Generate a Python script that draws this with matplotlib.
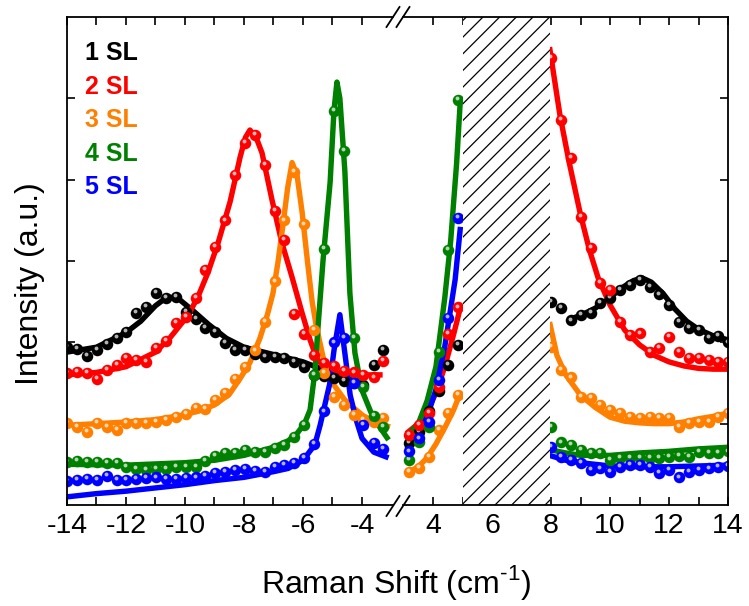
import matplotlib.pyplot as plt
from matplotlib import transforms
from matplotlib.lines import Line2D

plt.rcParams["font.family"] = ["Liberation Sans", "DejaVu Sans"]
plt.rcParams["mathtext.fontset"] = "custom"
plt.rcParams["mathtext.rm"] = "Liberation Sans"
plt.rcParams["axes.unicode_minus"] = False
plt.rcParams["hatch.linewidth"] = 0.9

labels = ["1 SL", "2 SL", "3 SL", "4 SL", "5 SL"]
colors = ["#000000", "#ff0000", "#ff8000", "#008000", "#0000ff"]

# measured points: shared Raman shift grid on both sides of the laser line
x_left = [-14.0, -13.66, -13.33, -12.99, -12.66, -12.32, -11.99, -11.65, -11.32, -10.98, -10.65,
          -10.31, -9.98, -9.64, -9.31, -8.97, -8.64, -8.3, -7.97, -7.63, -7.3, -6.96, -6.63,
          -6.29, -5.96, -5.62, -5.29, -4.95, -4.62, -4.28, -3.95, -3.61, -3.28]
x_right = [3.2, 3.53, 3.86, 4.19, 4.52, 4.85, 8.0, 8.33, 8.67, 9.0, 9.34, 9.67, 10.0, 10.34,
           10.67, 11.0, 11.34, 11.67, 12.0, 12.34, 12.67, 13.0, 13.34, 13.67, 14.0]

sl1_left = [1.94, 1.92, 1.83, 1.91, 1.98, 2.05, 2.13, 2.36, 2.44, 2.61, 2.55, 2.56, 2.37, 2.29,
            2.18, 2.13, 1.99, 1.91, 1.91, 1.86, 1.82, 1.82, 1.81, 1.76, 1.70, 1.60, 1.58, 1.56,
            1.53, 1.50, 1.47, 1.72, 1.91]
sl1_right = [0.76, 0.90, 1.15, 1.40, 1.72, 1.97, 2.50, 2.42, 2.27, 2.34, 2.36, 2.48, 2.55, 2.64,
             2.71, 2.77, 2.68, 2.59, 2.46, 2.25, 2.18, 2.15, 2.05, 2.08, 2.00]
sl2_left = [1.62, 1.64, 1.62, 1.55, 1.66, 1.72, 1.81, 1.78, 1.76, 1.93, 2.02, 2.24, 2.31, 2.55,
            2.89, 3.17, 3.50, 4.06, 4.45, 4.55, 4.18, 3.62, 3.26, 2.35, 2.10, 1.85, 1.75, 1.71,
            1.65, 1.63, 1.60, 1.57, 1.77]
sl2_right = [0.86, 0.98, 1.13, 1.45, 2.10, 2.43, 5.50, 4.73, 4.27, 3.54, 3.16, 2.73, 2.64, 2.25,
             2.09, 2.11, 1.88, 1.93, 2.07, 1.88, 1.81, 1.81, 1.78, 1.76, 1.76]
sl3_left = [1.01, 0.96, 0.90, 1.01, 0.96, 0.92, 1.01, 1.01, 1.01, 1.02, 1.05, 1.08, 1.12, 1.19,
            1.18, 1.29, 1.38, 1.55, 1.70, 1.90, 2.25, 2.75, 3.50, 4.10, 3.45, 2.15, 1.62, 1.33,
            1.23, 1.11, 1.05, 1.02, 1.07]
sl3_right = [0.41, 0.46, 0.59, 0.92, 1.13, 1.35, 1.94, 1.66, 1.57, 1.33, 1.32, 1.23, 1.17, 1.13,
             1.08, 1.07, 1.08, 1.07, 1.07, 0.96, 1.01, 1.02, 1.02, 1.08, 1.13]
sl4_left = [0.53, 0.54, 0.53, 0.53, 0.52, 0.52, 0.47, 0.44, 0.43, 0.44, 0.44, 0.47, 0.47, 0.47,
            0.54, 0.60, 0.64, 0.64, 0.68, 0.65, 0.65, 0.70, 0.74, 0.84, 0.98, 1.60, 3.15, 4.85,
            4.35, 2.05, 1.45, 1.10, 0.96]
sl4_right = [0.55, 0.78, 0.96, 1.88, 3.14, 4.98, 0.96, 0.77, 0.74, 0.68, 0.64, 0.64, 0.55, 0.58,
             0.58, 0.58, 0.58, 0.58, 0.59, 0.60, 0.59, 0.65, 0.64, 0.64, 0.66]
sl5_left = [0.30, 0.31, 0.32, 0.31, 0.36, 0.31, 0.31, 0.32, 0.33, 0.34, 0.32, 0.32, 0.33, 0.34,
            0.36, 0.39, 0.41, 0.43, 0.44, 0.42, 0.41, 0.47, 0.49, 0.52, 0.58, 0.75, 1.15, 2.00,
            2.05, 1.50, 0.98, 0.76, 0.69]
sl5_right = [0.66, 0.82, 1.02, 1.54, 2.30, 3.53, 0.71, 0.59, 0.55, 0.52, 0.43, 0.45, 0.41, 0.47,
             0.49, 0.49, 0.47, 0.39, 0.43, 0.34, 0.41, 0.43, 0.45, 0.47, 0.48]

# fitted curves, one list pair per visible segment
sl1_fit_lx = [-14, -13, -12, -11.5, -11, -10.6, -10.2, -9.7, -9.2, -8.6, -8, -7, -6, -5, -4.2]
sl1_fit_ly = [1.88, 1.94, 2.12, 2.26, 2.45, 2.56, 2.53, 2.38, 2.22, 2.05, 1.94, 1.85, 1.76, 1.62, 1.52]
sl1_fit_bx = [8.6, 9.0, 9.5, 10.0, 10.4, 10.8, 11.1, 11.4, 11.8, 12.2, 12.6, 13.0, 13.5, 14.0]
sl1_fit_by = [2.28, 2.33, 2.42, 2.55, 2.67, 2.76, 2.79, 2.74, 2.60, 2.41, 2.26, 2.16, 2.08, 2.03]

sl2_fit_lx = [-14, -13, -12, -11, -10.5, -9.9, -9.56, -9.22, -8.88, -8.47, -8.13, -7.95, -7.8,
              -7.6, -7.39, -7.05, -6.72, -6.37, -6.03, -5.76, -5.53, -5.19, -4.8, -4.2, -3.3]
sl2_fit_ly = [1.60, 1.63, 1.70, 1.88, 2.06, 2.33, 2.56, 2.86, 3.22, 3.73, 4.28, 4.52, 4.61,
              4.53, 4.33, 3.75, 3.23, 2.80, 2.36, 2.03, 1.80, 1.66, 1.62, 1.60, 1.60]
sl2_fit_ax = [3.1, 3.5, 3.8, 4.1, 4.4, 4.7, 4.93]
sl2_fit_ay = [0.88, 1.00, 1.15, 1.38, 1.70, 2.10, 2.43]
sl2_fit_bx = [7.95, 8.3, 8.6, 9.0, 9.3, 9.6, 10.0, 10.5, 11.0, 11.5, 12.0, 12.5, 13.0, 13.5, 14.0]
sl2_fit_by = [5.63, 4.80, 4.24, 3.57, 3.14, 2.79, 2.46, 2.15, 1.97, 1.84, 1.76, 1.71, 1.68, 1.67, 1.67]

sl3_fit_lx = [-14, -13, -12, -11, -10, -9.5, -9, -8.5, -8.14, -7.8, -7.46, -7.2, -7.02, -6.85,
              -6.68, -6.52, -6.37, -6.2, -6.03, -5.85, -5.69, -5.55, -5.32, -4.96, -4.6, -4.3,
              -3.97, -3.5, -3.05]
sl3_fit_ly = [0.98, 1.00, 1.02, 1.05, 1.11, 1.16, 1.23, 1.36, 1.55, 1.75, 2.05, 2.35, 2.60, 2.98,
              3.44, 3.90, 4.21, 4.05, 3.60, 3.00, 2.50, 2.20, 1.82, 1.48, 1.30, 1.20, 1.10, 1.01, 0.96]
sl3_fit_ax = [3.1, 3.5, 3.8, 4.1, 4.4, 4.7, 4.93]
sl3_fit_ay = [0.39, 0.47, 0.58, 0.75, 0.95, 1.17, 1.38]
sl3_fit_bx = [7.95, 8.2, 8.5, 9.0, 9.5, 10.0, 10.5, 11.0, 11.5, 12.0, 12.5, 13.0, 13.5, 14.0]
sl3_fit_by = [2.25, 1.84, 1.60, 1.35, 1.20, 1.08, 1.03, 1.01, 1.00, 1.00, 1.02, 1.06, 1.09, 1.13]

sl4_fit_lx = [-14, -12, -10, -9, -8, -7, -6.5, -6.2, -5.95, -5.76, -5.59, -5.49, -5.32, -5.08,
              -4.95, -4.85, -4.75, -4.58, -4.41, -4.24, -4.0, -3.63, -3.1]
sl4_fit_ly = [0.50, 0.49, 0.52, 0.55, 0.61, 0.71, 0.79, 0.88, 1.00, 1.17, 1.66, 2.19, 3.01, 3.97,
              4.85, 5.20, 5.00, 4.10, 2.60, 1.87, 1.41, 1.08, 0.80]
sl4_fit_ax = [3.1, 3.5, 3.8, 4.1, 4.4, 4.6, 4.8, 4.93]
sl4_fit_ay = [0.84, 1.00, 1.28, 1.70, 2.55, 3.25, 4.20, 5.00]
sl4_fit_bx = [7.95, 8.5, 9.0, 10.0, 11.0, 12.0, 13.0, 14.0]
sl4_fit_by = [0.68, 0.64, 0.61, 0.61, 0.64, 0.66, 0.69, 0.71]

sl5_fit_lx = [-14, -13, -12, -11, -10, -9, -8, -7, -6.5, -6.0, -5.6, -5.42, -5.1, -4.95, -4.75,
              -4.55, -4.4, -4.2, -4.0, -3.6, -3.1]
sl5_fit_ly = [0.10, 0.14, 0.17, 0.21, 0.25, 0.30, 0.34, 0.41, 0.45, 0.55, 0.74, 0.98, 1.48, 1.90,
              2.34, 1.78, 1.35, 1.05, 0.82, 0.65, 0.58]
sl5_fit_ax = [3.1, 3.5, 3.8, 4.1, 4.4, 4.75, 4.93]
sl5_fit_ay = [0.68, 0.85, 1.08, 1.42, 1.95, 2.77, 3.42]
sl5_fit_bx = [7.95, 8.5, 9.0, 10.0, 11.0, 12.0, 13.0, 14.0]
sl5_fit_by = [0.61, 0.55, 0.52, 0.48, 0.47, 0.47, 0.48, 0.49]

# notch filter region that is blanked out
notch = (5.0, 7.95)


def draw_points(ax, fig, x, y, color):
    """Shaded ball markers: a coloured disc plus a small highlight."""
    ax.plot(x, y, "o", ms=8.3, color=color, mec="none", zorder=4)
    shine = transforms.offset_copy(ax.transData, fig=fig, x=-1.0, y=1.8, units="dots")
    ax.plot(x, y, "o", ms=2.8, color="white", mec="none", alpha=0.7, zorder=4, transform=shine)


def draw_fit(ax, x, y, color):
    ax.plot(x, y, "-", lw=3.9, color=color, solid_joinstyle="round", solid_capstyle="butt", zorder=3)


def style_axes(ax, side):
    ax.set_ylim(0, 6)
    ax.set_yticks([1, 2, 3, 4, 5])
    ax.tick_params(axis="both", which="both", direction="in", length=6, width=1.2,
                   top=True, bottom=True, labelsize=20.5, pad=6)
    ax.tick_params(axis="y", labelleft=False, labelright=False,
                   left=(side == "left"), right=(side == "right"))
    for name, spine in ax.spines.items():
        spine.set_linewidth(1.3)
        spine.set_zorder(20)
    hidden = "right" if side == "left" else "left"
    ax.spines[hidden].set_visible(False)


def raman_plot():
    fig = plt.figure(figsize=(7.49, 6.06), dpi=100)
    W, H = 749.0, 606.0
    ax_l = fig.add_axes([67 / W, 1 - 505 / H, 326 / W, 488 / H])
    ax_r = fig.add_axes([403 / W, 1 - 505 / H, 325 / W, 488 / H])

    ax_l.set_xlim(-14, -2.949)
    ax_r.set_xlim(2.983, 14)
    ax_l.set_xticks([-14, -12, -10, -8, -6, -4])
    ax_l.set_xticks([-13, -11, -9, -7, -5], minor=True)
    ax_r.set_xticks([4, 6, 8, 10, 12, 14])
    ax_r.set_xticks([5, 7, 9, 11, 13], minor=True)
    style_axes(ax_l, "left")
    style_axes(ax_r, "right")

    left_pts = [sl1_left, sl2_left, sl3_left, sl4_left, sl5_left]
    right_pts = [sl1_right, sl2_right, sl3_right, sl4_right, sl5_right]
    fits_left = [(sl1_fit_lx, sl1_fit_ly), (sl2_fit_lx, sl2_fit_ly), (sl3_fit_lx, sl3_fit_ly),
                 (sl4_fit_lx, sl4_fit_ly), (sl5_fit_lx, sl5_fit_ly)]
    fits_right = [[(sl1_fit_bx, sl1_fit_by)],
                  [(sl2_fit_ax, sl2_fit_ay), (sl2_fit_bx, sl2_fit_by)],
                  [(sl3_fit_ax, sl3_fit_ay), (sl3_fit_bx, sl3_fit_by)],
                  [(sl4_fit_ax, sl4_fit_ay), (sl4_fit_bx, sl4_fit_by)],
                  [(sl5_fit_ax, sl5_fit_ay), (sl5_fit_bx, sl5_fit_by)]]

    for i, color in enumerate(colors):
        draw_fit(ax_l, *fits_left[i], color)
        draw_points(ax_l, fig, x_left, left_pts[i], color)
        for seg in fits_right[i]:
            draw_fit(ax_r, *seg, color)
        draw_points(ax_r, fig, x_right, right_pts[i], color)

    # hatched band hides the filter region (above data and ticks, below spines)
    ax_r.axvspan(*notch, facecolor="white", edgecolor="black", hatch="//", linewidth=0, zorder=10)

    # text legend
    for i, (label, color) in enumerate(zip(labels, colors)):
        ax_l.text(0.055, 0.926 - i * 0.0686, label, color=color, fontsize=18, fontweight="bold",
                  ha="left", va="center", transform=ax_l.transAxes, zorder=30)

    # axis break marks
    for yc in (17, 506):
        for xc in (393, 403):
            fig.add_artist(Line2D([(xc - 6.5) / W, (xc + 6.5) / W],
                                  [1 - (yc + 10) / H, 1 - (yc - 10) / H],
                                  color="black", lw=1.3, transform=fig.transFigure))

    fig.text(396 / W, 1 - 582 / H, r"Raman Shift (cm$^{\text{-1}}$)",
             ha="center", va="center", fontsize=23)
    fig.text(30 / W, 1 - 284 / H, "Intensity (a.u.)", rotation=90,
             ha="center", va="center", fontsize=23)

    fig.savefig("out.png", dpi=100)


if __name__ == "__main__":
    raman_plot()
